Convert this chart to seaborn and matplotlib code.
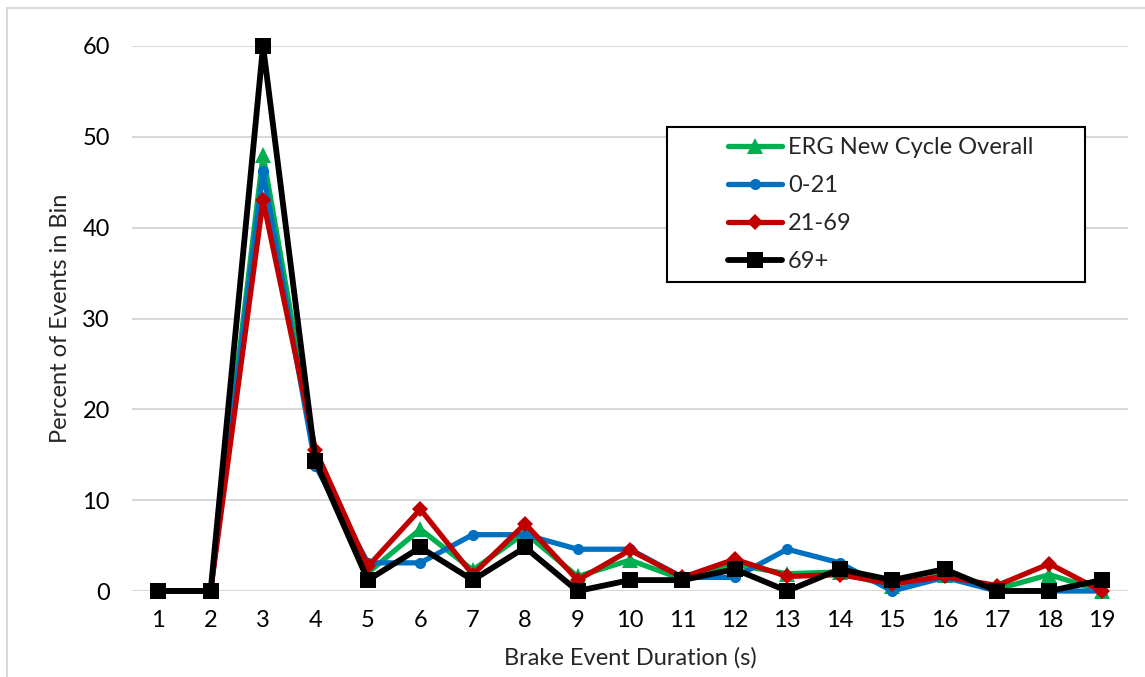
import pandas as pd
import matplotlib.pyplot as plt
import seaborn as sns
from matplotlib.patches import Rectangle

# brake event duration bins (s)
durations = list(range(1, 20))

# percent of events in each bin
erg_overall = [0, 0, 48.0, 15.0, 2.0, 6.8, 2.3, 6.4, 1.6, 3.4, 1.3, 2.9, 1.9, 2.1, 0.5, 1.8, 0.2, 1.8, 0]
age_0_21 = [0, 0, 46.2, 13.8, 3.1, 3.1, 6.2, 6.2, 4.6, 4.6, 1.5, 1.5, 4.6, 3.1, 0, 1.5, 0, 0, 0]
age_21_69 = [0, 0, 43.0, 15.5, 2.7, 9.0, 1.8, 7.4, 1.2, 4.5, 1.5, 3.5, 1.6, 1.8, 0.8, 1.6, 0.6, 3.0, 0]
age_69_plus = [0, 0, 60.0, 14.3, 1.2, 4.8, 1.2, 4.8, 0, 1.2, 1.2, 2.4, 0, 2.4, 1.2, 2.4, 0, 0, 1.2]

series_names = ["ERG New Cycle Overall", "0-21", "21-69", "69+"]
series_values = [erg_overall, age_0_21, age_21_69, age_69_plus]

df = pd.concat([
    pd.DataFrame({"duration": durations, "pct": vals, "group": name})
    for name, vals in zip(series_names, series_values)
])

colors = {"ERG New Cycle Overall": "#00B050", "0-21": "#0070C0",
          "21-69": "#C00000", "69+": "#000000"}
markers = {"ERG New Cycle Overall": "^", "0-21": "o", "21-69": "D", "69+": "s"}
msizes = {"ERG New Cycle Overall": 11, "0-21": 8, "21-69": 8.5, "69+": 11}
lwidths = {"ERG New Cycle Overall": 3.8, "0-21": 3.8, "21-69": 3.8, "69+": 4.2}

sns.set_style("white")
plt.rcParams['font.family'] = ['Lato', 'DejaVu Sans']

fig = plt.figure(figsize=(11.45, 6.77), dpi=100)
ax = fig.add_axes([132 / 1145, 1 - 591 / 677, 996 / 1145, 545 / 677])

for i, name in enumerate(series_names):
    sns.lineplot(data=df[df["group"] == name], x="duration", y="pct",
                 color=colors[name], marker=markers[name],
                 markersize=msizes[name], markeredgewidth=0,
                 linewidth=lwidths[name], label=name, ax=ax, zorder=3 + i)

for line in ax.get_lines():
    line.set_clip_on(False)

ax.set_xlim(0.5, 19.5)
ax.set_ylim(0, 60)
ax.set_xticks(durations)
ax.set_yticks(range(0, 61, 10))
ax.yaxis.grid(True, color="#D9D9D9", linewidth=1.5)
ax.xaxis.grid(False)
for s in ax.spines.values():
    s.set_visible(False)
ax.tick_params(axis="both", length=0, labelsize=17, colors="black")
ax.tick_params(axis="x", pad=14)
ax.tick_params(axis="y", pad=16)

ax.set_xlabel("Brake Event Duration (s)", fontsize=17, labelpad=11)
ax.set_ylabel("Percent of Events in Bin", fontsize=17, labelpad=8)

# legend entries, with the boxed frame drawn separately
leg = ax.legend(loc="upper left", bbox_to_anchor=(0.598, 0.833),
                fontsize=17, frameon=False, handlelength=2.3,
                handletextpad=0.25, labelspacing=0.72,
                borderpad=0, borderaxespad=0)
ax.add_patch(Rectangle((0.537, 0.567), 0.4197, 0.2844, transform=ax.transAxes,
                       fill=True, facecolor="white", edgecolor="black",
                       linewidth=1.5, zorder=10, clip_on=False))
leg.set_zorder(11)

# chart area border (cropped at right and bottom)
fig.patches.append(Rectangle((7 / 1145, -0.05), 1.1, 1 - 8 / 677 + 0.05,
                             transform=fig.transFigure, fill=False,
                             edgecolor="#D9D9D9", linewidth=1.5))

fig.savefig("out.png", dpi=100)
